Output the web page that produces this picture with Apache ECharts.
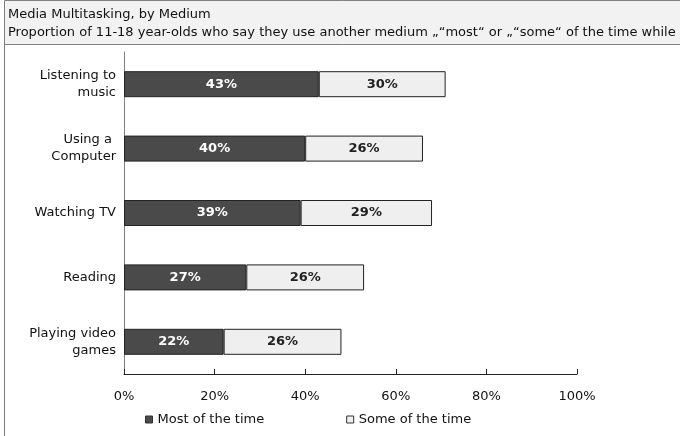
<!DOCTYPE html>
<html>
<head>
<meta charset="utf-8">
<script src="https://cdn.jsdelivr.net/npm/echarts@6/dist/echarts.min.js"></script>
<style>
  html, body { margin: 0; padding: 0; background: #fff; }
  #chart { width: 680px; height: 436px; }
</style>
</head>
<body>
<div id="chart"></div>
<script>
// data
const categories = ['Listening to\nmusic', 'Using a \nComputer', 'Watching TV', 'Reading', 'Playing video\ngames'];
const mostValues = [43, 40, 39, 27, 22];
const someValues = [28, 26, 29, 26, 26];   // drawn length
const someLabels = [30, 26, 29, 26, 26];   // printed label
const xTicks = [0, 20, 40, 60, 80, 100];

const font = 'DejaVu Sans, sans-serif';
let chart = echarts.init(document.getElementById('chart'));

const option = {
  animation: false,
  textStyle: { fontFamily: font },
  graphic: [
    { type: 'rect', shape: { x: 4.5, y: 0.5, width: 690, height: 44 },
      style: { fill: '#f2f2f2', stroke: '#7f7f7f', lineWidth: 1 } },
    { type: 'line', shape: { x1: 4.5, y1: 44, x2: 4.5, y2: 436 },
      style: { stroke: '#7f7f7f', lineWidth: 1 } }
  ],
  title: {
    text: 'Media Multitasking, by Medium',
    subtext: 'Proportion of 11-18 year-olds who say they use another medium \u201e\u201cmost\u201c or \u201e\u201csome\u201c of the time while',
    left: 8, top: 8,
    itemGap: 5,
    padding: 0,
    textStyle: { fontSize: 13, fontWeight: 'normal', color: '#111', fontFamily: font },
    subtextStyle: { fontSize: 13, color: '#111', fontFamily: font }
  },
  legend: {
    data: ['Most of the time', 'Some of the time'],
    left: 140, top: 408,
    itemWidth: 7, itemHeight: 7,
    itemGap: 82,
    icon: 'rect',
    itemStyle: { borderWidth: 1, borderColor: '#333' },
    textStyle: { fontSize: 13, color: '#111', fontFamily: font }
  },
  grid: { left: 124, right: 103, top: 52, bottom: 62, containLabel: false },
  xAxis: {
    type: 'value', min: 0, max: 100, interval: 20,
    axisLine: { show: true, lineStyle: { color: '#222', width: 1 } },
    axisTick: { show: true, inside: true, length: 5, lineStyle: { color: '#222' } },
    splitLine: { show: false },
    axisLabel: { formatter: '{value}%', fontSize: 13, color: '#111', margin: 16 }
  },
  yAxis: {
    type: 'category', data: categories, inverse: true,
    axisLine: { show: true, lineStyle: { color: '#808080' } },
    axisTick: { show: false },
    axisLabel: { fontSize: 13, color: '#111', margin: 8, lineHeight: 17 }
  },
  series: [
    {
      name: 'Most of the time', type: 'bar', stack: 'a',
      data: mostValues, barWidth: 26,
      itemStyle: { color: '#4a4a4a', borderColor: '#222', borderWidth: 1 },
      label: { show: true, position: 'inside', color: '#fff', fontWeight: 'bold', fontSize: 13,
               formatter: p => p.value + '%' }
    },
    {
      name: 'Some of the time', type: 'bar', stack: 'a',
      data: someValues, barWidth: 26,
      itemStyle: { color: '#efefef', borderColor: '#222', borderWidth: 1 },
      label: { show: true, position: 'inside', color: '#222', fontWeight: 'bold', fontSize: 13,
               formatter: p => someLabels[p.dataIndex] + '%' }
    }
  ]
};

chart.setOption(option);
</script>
</body>
</html>
